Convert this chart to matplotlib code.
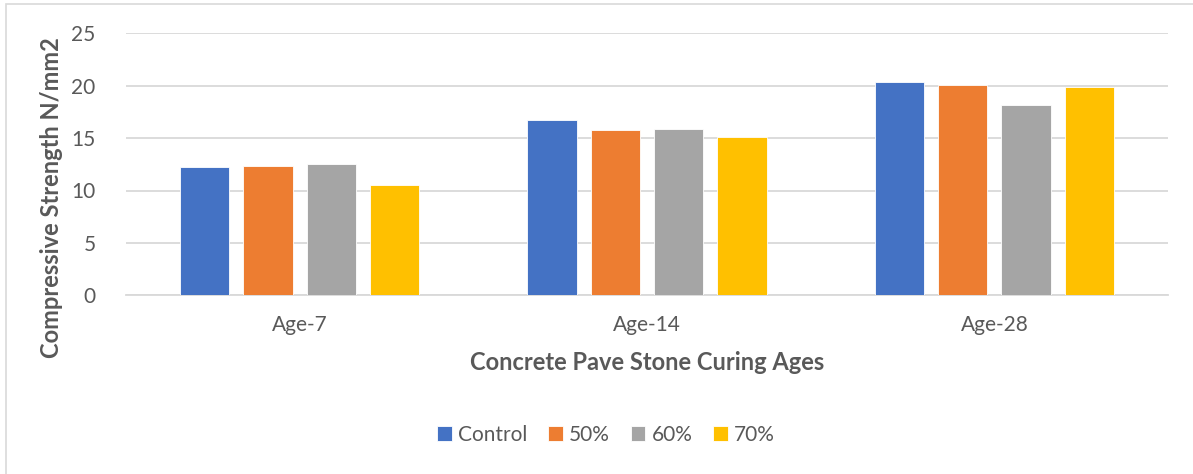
import numpy as np
import matplotlib
matplotlib.use("Agg")
from matplotlib import pyplot as plt
from matplotlib.patches import Rectangle

# datos
ages = ["Age-7", "Age-14", "Age-28"]
series = ["Control", "50%", "60%", "70%"]
control = [12.2, 16.7, 20.4]
p50 = [12.3, 15.8, 20.1]
p60 = [12.5, 15.9, 18.2]
p70 = [10.5, 15.1, 19.9]
yticks = [0, 5, 10, 15, 20, 25]

colors = ["#4472C4", "#ED7D31", "#A5A5A5", "#FFC000"]
textColor = "#595959"

plt.rcParams['font.family'] = ['Lato', 'DejaVu Sans']

W, H = 1193, 474
fig = plt.figure(figsize=(W/100, H/100), dpi=100)
fig.patch.set_facecolor("white")
# marco del grafico
fig.patches.append(Rectangle((6/W, -0.1), 1.2, (H-4)/H + 0.1, transform=fig.transFigure,
                             fill=False, edgecolor="#D9D9D9", linewidth=1.2))

ax = fig.add_axes([126/W, (H-295.3)/H, (1168-126)/W, (295.3-33.3)/H])

x = np.arange(len(ages))
width = 0.1425
step = 0.1823
allSeries = [control, p50, p60, p70]
for k, vals in enumerate(allSeries):
    ax.bar(x + (k-1.5)*step, vals, width, color=colors[k], label=series[k],
           edgecolor="white", linewidth=0.6, zorder=3)

ax.set_xlim(-0.5, 2.5)
ax.set_ylim(0, 25)
ax.set_yticks(yticks)
ax.set_xticks(x)
ax.set_xticklabels(ages)
ax.grid(axis="y", color="#D9D9D9", linewidth=1.3, zorder=0)
ax.tick_params(axis="both", length=0, labelsize=15, labelcolor=textColor)
ax.tick_params(axis="y", pad=22)
ax.tick_params(axis="x", pad=14)
for s in ["top", "right", "left"]:
    ax.spines[s].set_visible(False)
ax.spines["bottom"].set_color("#D9D9D9")
ax.spines["bottom"].set_linewidth(1.3)

fig.text(52/W, 1 - 198/H, "Compressive Strength N/mm2", rotation=90, ha="center", va="center",
         fontsize=17, fontweight="bold", color=textColor)
fig.text(647/W, 1 - 362/H, "Concrete Pave Stone Curing Ages", ha="center", va="center",
         fontsize=17, fontweight="bold", color=textColor)

fig.legend(loc="center", bbox_to_anchor=(606/W, 1 - 435/H), ncol=4, frameon=False,
           fontsize=15, handlelength=0.7, handleheight=0.7, handletextpad=0.3,
           columnspacing=1.0, labelcolor=textColor)

fig.savefig("out.png", dpi=100)
